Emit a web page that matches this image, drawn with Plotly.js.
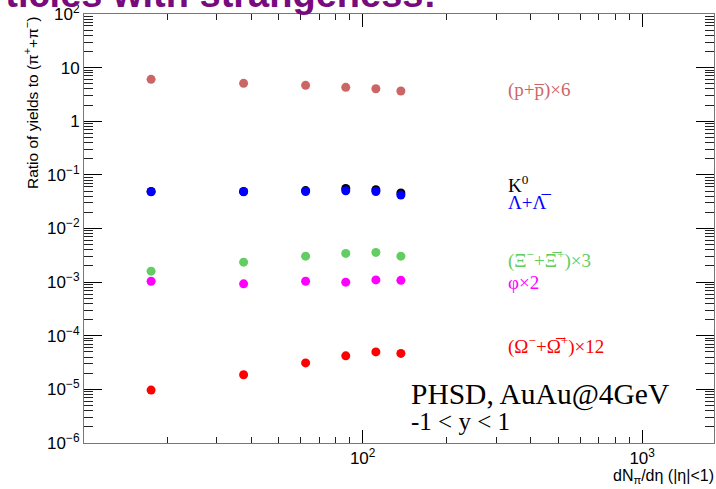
<!DOCTYPE html>
<html>
<head>
<meta charset="utf-8">
<script src="https://cdn.plot.ly/plotly-3.0.1.min.js"></script>
<style>
  html, body { margin: 0; padding: 0; background: #fff; }
  #chart { width: 716px; height: 489px; }
</style>
</head>
<body>
<div id="chart"></div>
<script>
// dN_pi/deta values (x) shared by all series
const dNdEta = [17.5, 37.5, 62.5, 87, 111.5, 137];

// ratios to (pi+ + pi-) as displayed (with scale factors applied)
const protonX6   = [6.05, 5.09, 4.68, 4.29, 4.04, 3.66];
const kaon0      = [0.049, 0.049, 0.051, 0.056, 0.053, 0.046];
const lambda     = [0.0484, 0.0484, 0.0490, 0.0505, 0.0490, 0.0420];
const xiX3       = [0.0016, 0.00236, 0.00305, 0.00343, 0.00358, 0.00305];
const phiX2      = [0.00104, 0.00093, 0.00104, 0.00100, 0.00110, 0.00108];
const omegaX12   = [9.7e-6, 1.87e-5, 3.12e-5, 4.22e-5, 5.0e-5, 4.68e-5];

const yTickVals = [1e-6, 1e-5, 1e-4, 1e-3, 1e-2, 1e-1, 1, 10, 100];
const yTickText = ["10<sup>−6</sup>", "10<sup>−5</sup>", "10<sup>−4</sup>", "10<sup>−3</sup>",
                   "10<sup>−2</sup>", "10<sup>−1</sup>", "1", "10", "10<sup>2</sup>"];
const xTickVals = [100, 1000];
const xTickText = ["10<sup>2</sup>", "10<sup>3</sup>"];

// minor tick positions (2..9 within each decade)
const minorPositions = (d0, d1) => {
  const out = [];
  for (let d = d0; d <= d1; d++) for (let k = 2; k <= 9; k++) out.push(k * Math.pow(10, d));
  return out;
};
const yMinor = minorPositions(-6, 1);
const xMinor = minorPositions(1, 3);

// main axes carry labels + all (short) ticks; overlay axes add the long major ticks
const yAllVals = yTickVals.concat(yMinor);
const yAllText = yTickText.concat(yMinor.map(() => ""));
const xAllVals = xTickVals.concat(xMinor);
const xAllText = xTickText.concat(xMinor.map(() => ""));

const seriesList = [
  {y: protonX6, color: "#cc6666"},
  {y: kaon0, color: "#000000"},
  {y: lambda, color: "#0000ff"},
  {y: xiX3, color: "#62cd62"},
  {y: phiX2, color: "#ff00ff"},
  {y: omegaX12, color: "#ff0000"}
];

const traces = seriesList.map(s => ({
  x: dNdEta, y: s.y, type: "scatter", mode: "markers",
  marker: {color: s.color, size: 9, symbol: "circle"}
}));
// invisible carrier trace so the major-tick overlay axes are drawn
traces.push({x: [dNdEta[0]], y: [protonX6[0]], xaxis: "x2", yaxis: "y2",
  type: "scatter", mode: "markers", marker: {opacity: 0, size: 1}, hoverinfo: "skip"});

// geometry helpers (paper coordinates from page pixels)
const L = 84, R = 714, T = 14, B = 443;
const px = x => (x - L) / (R - L);
const py = y => 1 - (y - T) / (B - T);

const serif = "Liberation Serif, Times New Roman, serif";
const sans = "Liberation Sans, Arial, Helvetica, sans-serif";

const labels = [
  {text: "(p+p\u0305)×6", y: 90, color: "#cc6666"},
  {text: "K<sup>0</sup>", y: 184, color: "#000000"},
  {text: "Λ+Λ\u0305", y: 202, color: "#0000ff"},
  {text: "(Ξ<sup>−</sup>+Ξ\u0305<sup>+</sup>)×3", y: 259, color: "#62cd62"},
  {text: "φ×2", y: 282, color: "#ff00ff"},
  {text: "(Ω<sup>−</sup>+Ω\u0305<sup>+</sup>)×12", y: 345, color: "#ff0000"}
];

const annotations = labels.map(l => ({
  xref: "paper", yref: "paper", x: px(506), y: py(l.y),
  xanchor: "left", yanchor: "middle", showarrow: false,
  text: l.text, font: {family: serif, size: 19, color: l.color}
}));

annotations.push(
  {xref: "paper", yref: "paper", x: px(409), y: py(394), xanchor: "left", yanchor: "middle",
   showarrow: false, text: "PHSD, AuAu@4GeV", font: {family: serif, size: 29.5, color: "#000"}},
  {xref: "paper", yref: "paper", x: px(409), y: py(421), xanchor: "left", yanchor: "middle",
   showarrow: false, text: "-1 &lt; y &lt; 1", font: {family: serif, size: 25, color: "#000"}},
  {xref: "paper", yref: "paper", x: px(716), y: py(476), xanchor: "right", yanchor: "middle",
   showarrow: false, text: "dN<sub>π</sub>/dη (|η|&lt;1)", font: {family: sans, size: 16, color: "#000"}},
  {xref: "paper", yref: "paper", x: px(31), y: py(103), xanchor: "center", yanchor: "middle",
   textangle: -90, showarrow: false, text: "Ratio of yields to (π<sup>+</sup>+π<sup>−</sup>)",
   font: {family: sans, size: 15.5, color: "#000"}},
  {xref: "paper", yref: "paper", x: px(438), y: py(-6), xanchor: "right", yanchor: "middle",
   showarrow: false, text: "<b>Particles with strangeness:</b>",
   font: {family: sans, size: 38, color: "#780a7d"}}
);

const xRange = [1.003, 3.257];
const yRange = [-6, 2];

const layout = {
  width: 716, height: 489,
  margin: {l: L, r: 716 - R, t: T, b: 489 - B},
  paper_bgcolor: "#fff", plot_bgcolor: "#fff",
  showlegend: false,
  font: {family: sans, size: 17, color: "#000"},
  xaxis: {
    type: "log", range: xRange,
    tickmode: "array", tickvals: xAllVals, ticktext: xAllText,
    ticks: "inside", ticklen: 6, tickcolor: "#222", tickwidth: 1,
    showline: true, linecolor: "#777", linewidth: 1, mirror: "allticks",
    showgrid: false, zeroline: false,
    tickfont: {family: sans, size: 17, color: "#000"}
  },
  yaxis: {
    type: "log", range: yRange,
    tickmode: "array", tickvals: yAllVals, ticktext: yAllText,
    ticks: "inside", ticklen: 9, tickcolor: "#222", tickwidth: 1,
    showline: true, linecolor: "#777", linewidth: 1, mirror: "allticks",
    showgrid: false, zeroline: false,
    tickfont: {family: sans, size: 17, color: "#000"}
  },
  xaxis2: {
    type: "log", range: xRange, overlaying: "x", anchor: "y2",
    tickmode: "array", tickvals: xTickVals, showticklabels: false,
    ticks: "inside", ticklen: 13, tickcolor: "#000", tickwidth: 1,
    mirror: "allticks", showgrid: false, zeroline: false
  },
  yaxis2: {
    type: "log", range: yRange, overlaying: "y", anchor: "x2",
    tickmode: "array", tickvals: yTickVals, showticklabels: false,
    ticks: "inside", ticklen: 18, tickcolor: "#000", tickwidth: 1,
    mirror: "allticks", showgrid: false, zeroline: false
  },
  annotations: annotations
};

Plotly.newPlot("chart", traces, layout, {displayModeBar: false, staticPlot: true});
</script>
</body>
</html>
